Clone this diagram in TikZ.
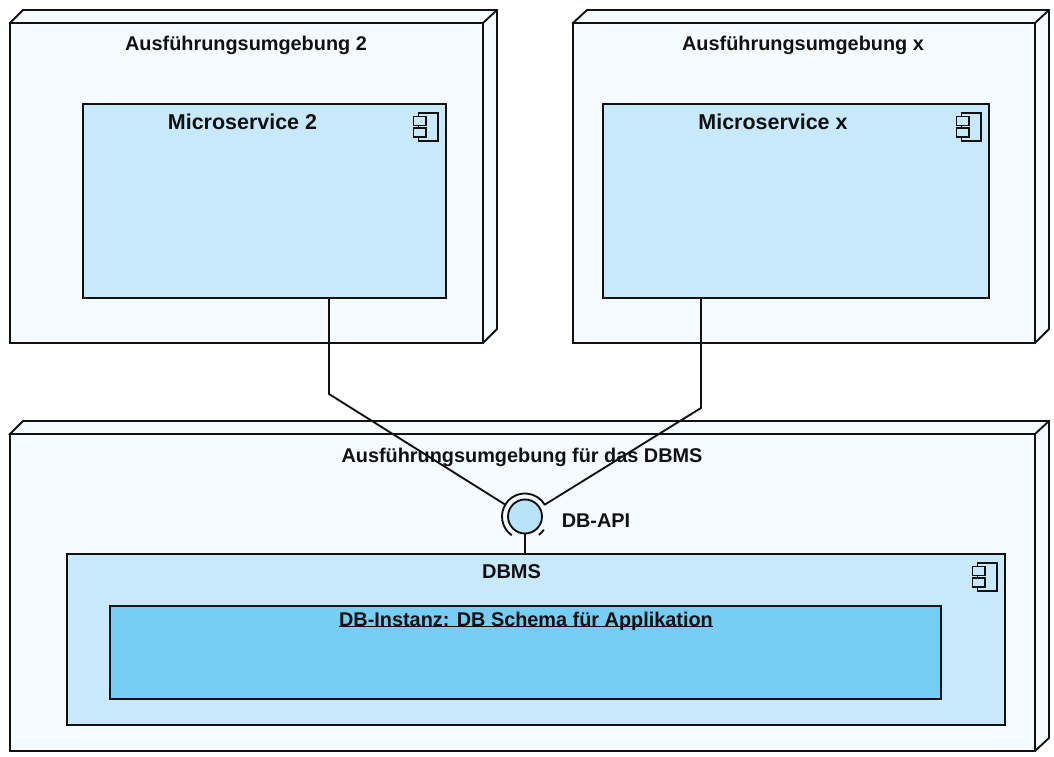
\documentclass[tikz,border=0pt]{standalone}
\usepackage{fontspec}
\setmainfont{Liberation Sans}
\usetikzlibrary{calc}
\definecolor{envfill}{HTML}{F5FBFF}
\definecolor{compfill}{HTML}{C8E9FB}
\definecolor{instfill}{HTML}{77CEF5}
\definecolor{ballfill}{HTML}{B8E3F9}
\definecolor{inkline}{HTML}{111111}
\tikzset{
  px/.style={x=0.75pt,y=-0.75pt},
  boxline/.style={draw=inkline,line width=1.4pt,line join=miter},
  envbox/.style={boxline,fill=envfill,rectangle,inner sep=0pt,outer sep=0pt,anchor=north west},
  compbox/.style={boxline,fill=compfill,rectangle,inner sep=0pt,outer sep=0pt,anchor=north west},
  instbox/.style={boxline,fill=instfill,rectangle,inner sep=0pt,outer sep=0pt,anchor=north west},
  envside/.style={boxline,fill=envfill},
  iconline/.style={draw=inkline,line width=1.1pt,fill=compfill},
  conn/.style={draw=inkline,line width=1.4pt},
  title/.style={font=\bfseries\fontsize{14.9}{18}\selectfont,text=inkline,inner sep=0pt,anchor=center},
  titlebig/.style={font=\bfseries\fontsize{16.1}{18}\selectfont,text=inkline,inner sep=0pt,anchor=center},
}
\newcommand{\compicon}[1]{%
  \draw[iconline] ($(#1)+(-27.5,9)$) rectangle ($(#1)+(-8,37)$);
  \draw[iconline] ($(#1)+(-32.5,12.5)$) rectangle ($(#1)+(-20,21.5)$);
  \draw[iconline] ($(#1)+(-32.5,24)$) rectangle ($(#1)+(-20,33)$);
}
\begin{document}
\begin{tikzpicture}[px]
\useasboundingbox (0,0) rectangle (1054,757);
\fill[white] (0,0) rectangle (1054,757);
% environment 2
\draw[envside] (10,23) -- (23,10) -- (497,10) -- (497,329) -- (483,343) -- cycle;
\draw[boxline] (483,23) -- (497,10);
\node[envbox,minimum width=354.75pt,minimum height=240pt] (env2) at (10,23) {};
% environment x
\draw[envside] (573,23) -- (587,10) -- (1049,10) -- (1049,329) -- (1035,343) -- cycle;
\draw[boxline] (1035,23) -- (1049,10);
\node[envbox,minimum width=346.5pt,minimum height=240pt] (envx) at (573,23) {};
% environment DBMS
\draw[envside] (10,434) -- (23,421) -- (1049,421) -- (1049,738) -- (1035,751) -- cycle;
\draw[boxline] (1035,434) -- (1049,421);
\node[envbox,minimum width=768.75pt,minimum height=237.75pt] (envd) at (10,434) {};
% components
\node[compbox,minimum width=272.25pt,minimum height=145.5pt] (comp2) at (83,104) {};
\node[compbox,minimum width=289.5pt,minimum height=145.5pt] (compx) at (603,104) {};
\node[compbox,minimum width=703.5pt,minimum height=128.25pt] (dbms) at (67,554) {};
\node[instbox,minimum width=623.25pt,minimum height=69.75pt] (inst) at (110,606) {};
\compicon{comp2.north east}
\compicon{compx.north east}
\compicon{dbms.north east}
% titles
\node[title] (t1) at (246,45.5) {Ausführungsumgebung 2};
\node[title] (t2) at (803,45.5) {Ausführungsumgebung x};
\node[title] (t3) at (522,457) {Ausführungsumgebung für das DBMS};
\node[titlebig] (t4) at (242.5,122) {Microservice 2};
\node[titlebig] (t5) at (773,122) {Microservice x};
\node[title,font=\bfseries\fontsize{15}{18}\selectfont] (t6) at (511.5,572) {DBMS};
\node[title] (t7) at (526,621.5) {DB-Instanz: DB Schema für Applikation};
\draw[inkline,line width=1.3pt] (t7.west |- 0,626.5) -- (t7.east |- 0,626.5);
% interface
\node[circle,inner sep=0pt,outer sep=0pt,minimum size=34.5pt] (api) at (525,516.5) {};
\node[circle,boxline,fill=ballfill,inner sep=0pt,outer sep=0pt,minimum size=25.5pt] (ball) at (525,516.5) {};
\draw[conn] (api.235) arc[start angle=-235,end angle=-30,radius=23];
\draw[conn] (api.-35) arc[start angle=35,end angle=53,radius=23];
\node[title] (t8) at (596,521) {DB-API};
% connectors
\coordinate (bend2) at (329,394);
\coordinate (bendx) at (701,408);
\draw[conn] (comp2.south -| bend2) -- (bend2) -- (api.149);
\draw[conn] (compx.south -| bendx) -- (bendx) -- (api.31);
\draw[conn] (ball.south) -- (dbms.north -| ball.south);
\end{tikzpicture}
\end{document}
